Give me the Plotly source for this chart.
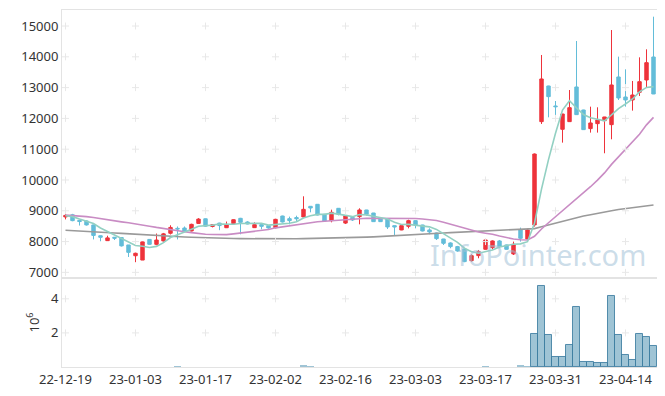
import plotly.graph_objects as go
from plotly.subplots import make_subplots

dates = [
    "22-12-19", "22-12-20", "22-12-21", "22-12-22", "22-12-23", "22-12-26", "22-12-27", "22-12-28", "22-12-29",
    "23-01-02", "23-01-03", "23-01-04", "23-01-05", "23-01-06", "23-01-09", "23-01-10", "23-01-11", "23-01-12",
    "23-01-13", "23-01-16", "23-01-17", "23-01-18", "23-01-19", "23-01-20", "23-01-25", "23-01-26", "23-01-27",
    "23-01-30", "23-01-31", "23-02-01", "23-02-02", "23-02-03", "23-02-06", "23-02-07", "23-02-08", "23-02-09",
    "23-02-10", "23-02-13", "23-02-14", "23-02-15", "23-02-16", "23-02-17", "23-02-20", "23-02-21", "23-02-22",
    "23-02-23", "23-02-24", "23-02-27", "23-02-28", "23-03-02", "23-03-03", "23-03-06", "23-03-07", "23-03-08",
    "23-03-09", "23-03-10", "23-03-13", "23-03-14", "23-03-15", "23-03-16", "23-03-17", "23-03-20", "23-03-21",
    "23-03-22", "23-03-23", "23-03-24", "23-03-27", "23-03-28", "23-03-29", "23-03-30", "23-03-31", "23-04-03",
    "23-04-04", "23-04-05", "23-04-06", "23-04-07", "23-04-10", "23-04-11", "23-04-12", "23-04-13", "23-04-14",
    "23-04-17", "23-04-18", "23-04-19", "23-04-20",
]

open_ = [8800, 8870, 8690, 8670, 8540, 8190, 8030, 8140, 8130, 7890,
         7540, 7400, 8070, 7910, 8020, 8270, 8430, 8440, 8344, 8590,
         8740, 8490, 8600, 8450, 8580, 8755, 8636, 8452, 8550, 8517,
         8452, 8830, 8744, 8780, 8800, 9145, 9210, 8885, 8680, 9080,
         8600, 8788, 8809, 9026, 8928, 8755, 8733, 8517, 8377, 8496,
         8680, 8539, 8377, 8279, 8084, 7955, 7836, 7760, 7381, 7544,
         7749, 7803, 8020, 7890, 7598, 8377, 8084, 8540, 11895, 13053,
         12403, 11646, 11895, 13020, 12273, 11668, 11830, 11927, 11797, 13345,
         12695, 12598, 12847, 13247, 13994]
high = [8900, 8900, 8700, 8690, 8550, 8200, 8190, 8150, 8140, 7890,
        7640, 8000, 8080, 8260, 8280, 8530, 8490, 8490, 8580, 8760,
        8750, 8570, 8610, 8650, 8720, 8770, 8660, 8625, 8560, 8530,
        8740, 8840, 8810, 8840, 9470, 9150, 9220, 8900, 9036, 9090,
        8860, 8810, 9080, 9030, 8930, 8770, 8740, 8520, 8530, 8712,
        8690, 8545, 8430, 8290, 8090, 7975, 7860, 7770, 7587, 7727,
        8074, 8040, 8052, 7900, 7998, 8453, 8420, 10860, 14059, 13060,
        12565, 12150, 12922, 14513, 12280, 12381, 12360, 12050, 14870, 14005,
        13593, 13215, 13983, 14243, 15303]
low = [8720, 8660, 8520, 8520, 8070, 8010, 8020, 8050, 7840, 7500,
       7330, 7400, 7900, 7880, 8000, 8230, 8070, 8310, 8330, 8580,
       8480, 8460, 8370, 8440, 8570, 8236, 8560, 8440, 8398, 8420,
       8430, 8620, 8560, 8670, 8790, 8950, 8850, 8660, 8625, 8850,
       8570, 8670, 8560, 8842, 8640, 8640, 8409, 8214, 8370, 8430,
       8430, 8330, 8236, 8052, 7890, 7782, 7670, 7330, 7349, 7457,
       7740, 7750, 7782, 7740, 7565, 7998, 8052, 8485, 11819, 12035,
       11992, 11213, 11890, 12110, 11630, 11538, 11538, 10867, 11321, 12598,
       12381, 12252, 12728, 13009, 12790]
close = [8850, 8680, 8650, 8540, 8200, 8140, 8120, 8110, 7860, 7650,
         7620, 7990, 7910, 8050, 8250, 8460, 8410, 8330, 8560, 8730,
         8500, 8550, 8520, 8540, 8710, 8625, 8571, 8550, 8495, 8441,
         8722, 8636, 8680, 8740, 9047, 9090, 8863, 8668, 8950, 8885,
         8840, 8701, 9026, 8885, 8647, 8647, 8474, 8474, 8517, 8680,
         8539, 8344, 8312, 8095, 7944, 7836, 7695, 7349, 7543, 7673,
         8052, 8020, 7836, 7749, 7912, 8106, 8377, 10843, 13280, 12706,
         12380, 12143, 12349, 12122, 11635, 11851, 11949, 12046, 13085, 12663,
         12598, 12760, 13193, 13810, 12793]

ma5 = [8840, 8810, 8730, 8660, 8584, 8442, 8330, 8222, 8086, 7976,
       7872, 7846, 7806, 7844, 7964, 8132, 8216, 8300, 8402, 8498,
       8506, 8534, 8572, 8568, 8564, 8589, 8593, 8599, 8590, 8536,
       8556, 8569, 8595, 8644, 8765, 8839, 8884, 8882, 8924, 8891,
       8841, 8809, 8880, 8867, 8820, 8781, 8736, 8625, 8552, 8558,
       8537, 8511, 8478, 8394, 8247, 8106, 7976, 7784, 7673, 7619,
       7662, 7727, 7825, 7866, 7914, 7925, 7996, 8597, 9704, 10662,
       11517, 12270, 12572, 12340, 12126, 12020, 11981, 11921, 12113, 12319,
       12468, 12630, 12860, 13005, 13031]
ma20 = [8860, 8850, 8830, 8810, 8780, 8740, 8700, 8670, 8640, 8610,
        8580, 8540, 8500, 8460, 8420, 8380, 8350, 8320, 8290, 8256,
        8238, 8232, 8225, 8225, 8251, 8275, 8297, 8319, 8351, 8391,
        8446, 8478, 8517, 8551, 8591, 8622, 8645, 8662, 8681, 8689,
        8706, 8714, 8739, 8756, 8753, 8754, 8749, 8746, 8747, 8759,
        8749, 8735, 8716, 8684, 8629, 8566, 8508, 8442, 8372, 8311,
        8272, 8238, 8178, 8121, 8085, 8058, 8053, 8171, 8409, 8611,
        8803, 8993, 9194, 9396, 9580, 9781, 9994, 10229, 10506, 10755,
        10983, 11220, 11487, 11790, 12034]
ma_long = [8370, 8360, 8350, 8340, 8325, 8310, 8295, 8280, 8265, 8250,
           8235, 8220, 8205, 8190, 8180, 8170, 8160, 8150, 8140, 8130,
           8120, 8115, 8110, 8105, 8100, 8095, 8092, 8090, 8088, 8087,
           8087, 8088, 8090, 8092, 8095, 8098, 8102, 8106, 8110, 8115,
           8120, 8127, 8135, 8143, 8152, 8162, 8172, 8183, 8195, 8208,
           8222, 8236, 8250, 8263, 8276, 8289, 8300, 8310, 8320, 8330,
           8340, 8348, 8356, 8364, 8372, 8380, 8390, 8420, 8480, 8540,
           8600, 8660, 8720, 8780, 8830, 8870, 8920, 8960, 9000, 9040,
           9070, 9100, 9130, 9160, 9190]

volume = [21000, 18000, 15000, 17000, 26000, 19000, 14000, 16000, 22000, 24000,
          20000, 28000, 17000, 19000, 23000, 25000, 60000, 18000, 16000, 21000,
          17000, 14000, 15000, 16000, 18000, 22000, 13000, 14000, 12000, 13000,
          19000, 16000, 15000, 14000, 110000, 30000, 22000, 18000, 20000, 16000,
          15000, 13000, 19000, 14000, 15000, 12000, 16000, 18000, 14000, 17000,
          15000, 16000, 14000, 19000, 21000, 18000, 20000, 27000, 22000, 19000,
          50000, 24000, 18000, 17000, 26000, 90000, 30000, 1940000, 4760000, 1900000,
          600000, 600000, 1300000, 3510000, 310000, 310000, 250000, 250000, 4170000, 1880000,
          720000, 440000, 1940000, 1770000, 1260000]

price_ticks = [7000, 8000, 9000, 10000, 11000, 12000, 13000, 14000, 15000]
vol_ticks = [2, 4]
x_ticks = dates[::10]

UP = "#ee333b"
DOWN = "#63bdd9"
FONT = "Noto Sans"

fig = make_subplots(rows=2, cols=1, shared_xaxes=True, vertical_spacing=0,
                    row_heights=[0.7507, 0.2493])

# grid crosses at tick intersections (drawn first, behind data)
gx, gy = [], []
for t in x_ticks:
    for v in price_ticks:
        gx.append(t)
        gy.append(v)
vx, vy = [], []
for t in x_ticks:
    for v in vol_ticks:
        vx.append(t)
        vy.append(v)

# moving averages and candles
fig.add_trace(go.Scatter(x=dates, y=ma_long, mode="lines", hoverinfo="skip",
                         line=dict(color="#9a9a9a", width=1.6)), row=1, col=1)
fig.add_trace(go.Scatter(x=dates, y=ma20, mode="lines", hoverinfo="skip",
                         line=dict(color="#c98cc4", width=1.6)), row=1, col=1)
fig.add_trace(go.Scatter(x=dates, y=ma5, mode="lines", hoverinfo="skip",
                         line=dict(color="#92d0c2", width=1.6)), row=1, col=1)

fig.add_trace(go.Candlestick(x=dates, open=open_, high=high, low=low, close=close,
                             increasing=dict(line=dict(color=UP, width=1), fillcolor=UP),
                             decreasing=dict(line=dict(color=DOWN, width=1), fillcolor=DOWN),
                             whiskerwidth=0),
              row=1, col=1)

vol_m = [v / 1e6 for v in volume]
fig.add_trace(go.Bar(x=dates, y=vol_m,
                     marker=dict(color="rgba(100,160,188,0.62)",
                                 line=dict(color="rgba(60,125,160,0.85)",
                                           width=[1 if v > 0.2 else 0 for v in vol_m]))),
              row=2, col=1)

fig.add_trace(go.Scatter(x=gx, y=gy, mode="markers", hoverinfo="skip",
                         marker=dict(symbol="cross-thin", size=5,
                                     line=dict(color="#e8e8e8", width=1))),
              row=1, col=1)
fig.add_trace(go.Scatter(x=vx, y=vy, mode="markers", hoverinfo="skip",
                         marker=dict(symbol="cross-thin", size=5,
                                     line=dict(color="#e8e8e8", width=1))),
              row=2, col=1)

axis_line = "#e3e3e3"
fig.update_xaxes(type="category", categoryorder="array", categoryarray=dates,
                 range=[-0.5, 84.5], showgrid=False,
                 showline=True, linecolor=axis_line, mirror=True,
                 rangeslider=dict(visible=False), zeroline=False,
                 tickvals=x_ticks, ticks="")
fig.update_xaxes(showticklabels=False, row=1, col=1)
fig.update_xaxes(showticklabels=True, tickfont=dict(family=FONT, size=13, color="#333"),
                 tickangle=0, row=2, col=1)
fig.update_yaxes(showgrid=False, zeroline=False, showline=True, linecolor=axis_line,
                 mirror=True, ticks="", automargin=False,
                 tickfont=dict(family=FONT, size=13, color="#333"))
fig.update_yaxes(range=[6817, 15520], tickvals=price_ticks, tickformat="d", row=1, col=1)
fig.update_yaxes(range=[0, 5.22], tickvals=vol_ticks, row=2, col=1,
                 title=dict(text="10<sup>6</sup>", font=dict(family=FONT, size=13, color="#333"),
                            standoff=8))

fig.add_annotation(text="InfoPointer.com", xref="paper", yref="paper",
                   x=0.985, y=0.314, xanchor="right", yanchor="middle", showarrow=False,
                   font=dict(family=FONT, size=29, color="rgba(160,192,214,0.55)"))

fig.update_layout(width=665, height=396, margin=dict(l=54, r=16, t=2, b=37, autoexpand=False),
                  showlegend=False, plot_bgcolor="white", paper_bgcolor="white",
                  bargap=0)

fig.write_html("out.html")
